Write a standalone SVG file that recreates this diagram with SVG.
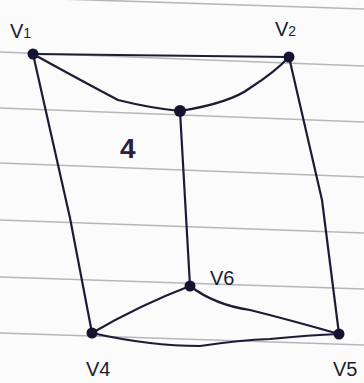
<svg xmlns="http://www.w3.org/2000/svg" width="364" height="383" viewBox="0 0 364 383">
<style>
.paper{stroke:#b4b6bc;stroke-width:1.6;fill:none}
.edge{stroke:#1c1c34;stroke-width:2.2;fill:none;stroke-linecap:round}
.node{fill:#141430}
.lbl{font-family:"Liberation Sans",Arial,sans-serif;font-size:20px;fill:#1c1c34}
.sub{font-size:14px}
</style>
<rect width="364" height="383" fill="#fbfbfb"/>
<g id="paper">
<line class="paper" x1="0" y1="-3" x2="364" y2="9"/>
<line class="paper" x1="0" y1="52" x2="364" y2="66"/>
<line class="paper" x1="0" y1="108" x2="364" y2="122"/>
<line class="paper" x1="0" y1="163" x2="364" y2="177"/>
<line class="paper" x1="0" y1="220" x2="364" y2="233"/>
<line class="paper" x1="0" y1="277" x2="364" y2="289"/>
<line class="paper" x1="0" y1="333" x2="364" y2="345"/>
</g>
<g id="connectors">
<path class="edge" d="M33,54 L289,57"/>
<path class="edge" d="M33,54 Q80,80 118,100 Q150,108 180,111"/>
<path class="edge" d="M180,111 Q230,103 250,88 Q275,72 289,57"/>
<path class="edge" d="M33,54 L70,218 L92,333"/>
<path class="edge" d="M289,57 L322,200 L339,334"/>
<path class="edge" d="M180,111 L190,286"/>
<path class="edge" d="M190,286 Q140,305 92,333"/>
<path class="edge" d="M190,286 Q215,305 250,310 Q290,320 339,334"/>
<path class="edge" d="M92,333 Q150,346 200,346 Q240,340 270,339 Q310,335 339,334"/>
</g>
<g id="v1"><circle class="node" cx="33" cy="54" r="5.5"/><text class="lbl" x="10" y="38">V<tspan class="sub">1</tspan></text></g>
<g id="v2"><circle class="node" cx="289" cy="57" r="5.5"/><text class="lbl" x="275" y="36">V<tspan class="sub">2</tspan></text></g>
<g id="v3"><circle class="node" cx="180" cy="111" r="6"/><text class="lbl" x="120" y="158" style="font-size:28px;font-weight:bold;fill:#2a2040">4</text></g>
<g id="v6"><circle class="node" cx="190" cy="286" r="5.5"/><text class="lbl" x="210" y="285">V6</text></g>
<g id="v4"><circle class="node" cx="92" cy="333" r="5.5"/><text class="lbl" x="86" y="376">V4</text></g>
<g id="v5"><circle class="node" cx="339" cy="334" r="5.5"/><text class="lbl" x="333" y="376">V5</text></g>
</svg>
